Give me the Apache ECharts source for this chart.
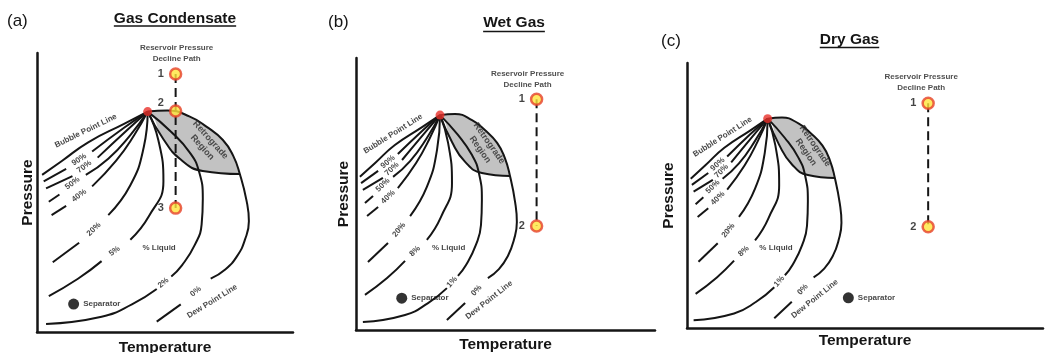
<!DOCTYPE html>
<html>
<head>
<meta charset="utf-8">
<script src="https://cdn.jsdelivr.net/npm/echarts@6/dist/echarts.min.js"></script>
<style>
  html, body { margin: 0; padding: 0; background: #fff; }
  #chart { width: 1045px; height: 353px; }
</style>
</head>
<body>
<div id="chart"></div>
<script>
// ---- Phase envelope (temperature, pressure), shared by the three panels ----
const criticalPoint = [28.1, 79.0];
const bubblePointLine = [[[28.1, 79.0], [22.1, 74.6], [13.0, 68.0], [6.4, 61.4], [1.3, 56.3]]];
const liquid90 = [[[28.1, 79.0], [22.1, 73.2], [14.0, 64.7]], [[7.4, 58.5], [1.7, 54.0]]];
const liquid70 = [[[28.1, 79.0], [22.7, 72.1], [15.4, 62.5]], [[9.0, 55.9], [2.3, 51.5]]];
const liquid50 = [[[28.1, 79.0], [23.7, 70.6], [18.1, 62.1], [12.4, 56.3]], [[5.7, 49.3], [3.0, 46.7]]];
const liquid40 = [[[28.1, 79.0], [24.7, 70.6], [20.1, 61.4], [14.0, 52.2]], [[7.4, 45.2], [3.7, 41.9]]];
const liquid20 = [[[28.1, 79.0], [27.1, 66.2], [23.7, 52.6], [18.1, 41.9]], [[10.7, 32.0], [4.0, 25.0]]];
const liquidLow = [[[28.1, 79.0], [30.8, 68.8], [32.1, 54.0], [28.4, 41.5], [23.7, 33.1]],
                   [[16.4, 25.4], [10.4, 19.1], [3.0, 12.9]]];
const liquidTrace = [[[28.1, 79.0], [34.1, 71.7], [38.8, 64.3], [41.1, 57.7], [42.1, 47.8], [41.8, 38.6],
                      [40.1, 31.3], [36.8, 23.9], [34.1, 19.9]],
                     [[30.4, 15.4], [24.1, 9.9], [16.4, 5.5], [2.3, 2.9]]];
const dewPointLine = [[[28.1, 79.0], [33.1, 79.4], [38.8, 77.2], [43.1, 73.5], [47.2, 68.8], [49.8, 63.2],
                       [51.5, 56.6], [53.2, 47.1], [53.8, 39.7], [52.8, 33.1], [50.8, 27.2], [47.8, 22.4],
                       [44.1, 19.1]],
                      [[36.5, 9.9], [30.4, 3.7]]];
// edges of the shaded retrograde region
const retrogradeUpper = [[28.1, 79.0], [33.1, 79.4], [38.8, 77.2], [43.1, 73.5], [47.2, 68.8], [49.8, 63.2], [51.5, 56.6]];
const retrogradeLower = [[28.1, 79.0], [32.1, 69.1], [36.5, 61.8], [42.1, 57.7], [51.5, 56.6]];

// curve annotations: text, temperature, pressure, direction along the curve (dT, dP)
const sharedLabels = [
  ['Bubble Point Line', 12.4, 72.1, 22.4, 15.4],
  ['90%', 10.7, 61.8, 6.6, 6.2],
  ['70%', 12.0, 59.2, 6.4, 6.6],
  ['50%', 9.0, 53.3, 6.7, 7.0],
  ['40%', 10.7, 48.9, 6.6, 7.0],
  ['20%', 14.4, 36.8, 7.4, 9.9],
  ['0%', 40.3, 14.5, 7.6, 9.2],
  ['Dew Point Line', 44.5, 11.0, 15.7, 13.6],
  ['% Liquid', 31.0, 30.3, 1, 0],
  ['Retrograde\nRegion', 43.0, 67.5, 0.192, -0.301]
];
const liquidLowLabel = [19.7, 29.0, 7.3, 7.7];
const liquidTraceLabel = [32.1, 17.6, 3.7, 4.5];

// ---- per panel ----
const panelLetters = ['(a)', '(b)', '(c)'];
const panelTitles = ['Gas Condensate', 'Wet Gas', 'Dry Gas'];
const temperatureSpan = [65, 100, 124];
const liquidLowText = ['5%', '8%', '8%'];
const liquidTraceText = ['2%', '1%', '1%'];
const declinePathT = [35.2, 60.4, 84.0];
const declinePathP = [[92.5, 79.2, 44.4], [84.8, 38.2], [84.8, 38.2]];
const declinePointNames = [['1', '2', '3'], ['1', '2'], ['1', '2']];
const separatorPos = [[9.3, 10.0], [15.3, 11.7], [56.2, 11.4]];

// ---- layout and styling ----
const FONT = "'Liberation Sans', Arial, Helvetica, sans-serif";
const INK = '#151515';
const panelLayout = [
  { grid: { left: 37, top: 53, width: 256, height: 279 }, title: { x: 175, y: 19, ul: 26 },
    letter: { x: 7, y: 21 }, pGap: 1, tGap: 8, pathTextOffset: [1, 0], pointLabelOffsets: [[0, 0], [0, -8], [0, 0]] },
  { grid: { left: 356, top: 58, width: 299, height: 272 }, title: { x: 514, y: 23, ul: 31.5 },
    letter: { x: 328, y: 22 }, pGap: 4, tGap: 7, pathTextOffset: [-9, 0], pointLabelOffsets: [[0, 0], [0, 0]] },
  { grid: { left: 687, top: 63, width: 356, height: 265 }, title: { x: 849.5, y: 40, ul: 47.5 },
    letter: { x: 661, y: 41 }, pGap: 10, tGap: 5, pathTextOffset: [-7, 0], pointLabelOffsets: [[0, 0], [0, 0]] }
];

const measureCtx = document.createElement('canvas').getContext('2d');
function textWidth(text, font) { measureCtx.font = font; return measureCtx.measureText(text).width; }

// the white mask under the lower edge reaches a little past both ends so no grey seam is left
function widenedMask(edge, pad) {
  const first = edge[0], last = edge[edge.length - 1];
  return [[first[0] - pad, first[1]]].concat(edge, [[last[0] + pad, last[1]]]);
}

const grids = [], xAxes = [], yAxes = [], series = [], graphics = [];
const axisName = { fontFamily: FONT, fontSize: 15.5, fontWeight: 'bold', color: INK };

panelLayout.forEach((L, i) => {
  grids.push(Object.assign({ containLabel: false, outerBoundsMode: 'none' }, L.grid));
  xAxes.push({
    gridIndex: i, type: 'value', min: 0, max: temperatureSpan[i], z: 10,
    name: 'Temperature', nameLocation: 'middle', nameGap: L.tGap, nameTextStyle: Object.assign({ verticalAlign: 'top' }, axisName),
    axisLine: { show: true, onZero: false, lineStyle: { color: INK, width: 2.5 } },
    axisTick: { show: false }, axisLabel: { show: false }, splitLine: { show: false }
  });
  yAxes.push({
    gridIndex: i, type: 'value', min: 0, max: 100, z: 10,
    name: 'Pressure', nameLocation: 'middle', nameGap: L.pGap, nameTextStyle: axisName,
    axisLine: { show: true, onZero: false, lineStyle: { color: INK, width: 2.5 } },
    axisTick: { show: false }, axisLabel: { show: false }, splitLine: { show: false }
  });

  const base = { xAxisIndex: i, yAxisIndex: i, animation: false, silent: true };
  const sx = L.grid.width / temperatureSpan[i];
  const sy = L.grid.height / 100;

  // shaded retrograde region: grey under the dew-point edge, cleared below the lower edge
  series.push(Object.assign({}, base, {
    type: 'line', data: retrogradeUpper, smooth: true, symbol: 'none', z: 1,
    lineStyle: { width: 0, opacity: 0 }, areaStyle: { color: '#c2c2c2', opacity: 1, origin: 'start' }
  }));
  series.push(Object.assign({}, base, {
    type: 'line', data: widenedMask(retrogradeLower, 0.8), smooth: true, symbol: 'none', z: 2,
    lineStyle: { width: 0, opacity: 0 }, areaStyle: { color: '#ffffff', opacity: 1, origin: 'start' }
  }));

  // envelope curves
  const curves = [bubblePointLine, liquid90, liquid70, liquid50, liquid40, liquid20, liquidLow, liquidTrace, dewPointLine, [retrogradeLower]];
  curves.forEach(curve => curve.forEach(seg => {
    series.push(Object.assign({}, base, {
      type: 'line', data: seg, smooth: true, symbol: 'none', z: 3, clip: false,
      lineStyle: { color: INK, width: 2 }
    }));
  }));

  // curve annotations
  const labels = sharedLabels.concat([
    [liquidLowText[i]].concat(liquidLowLabel),
    [liquidTraceText[i]].concat(liquidTraceLabel)
  ]);
  series.push(Object.assign({}, base, {
    type: 'scatter', symbol: 'circle', symbolSize: 1, z: 6, clip: false,
    itemStyle: { color: 'rgba(0,0,0,0)' },
    label: { show: true, position: 'inside', fontFamily: FONT, fontSize: 8, fontWeight: 'bold', color: INK, lineHeight: 10 },
    data: labels.map(([text, t, p, dt, dp]) => {
      const isRegion = text.indexOf('Retrograde') === 0;
      return {
        value: [t, p],
        label: {
          formatter: text,
          rotate: Math.atan2(dp * sy, dt * sx) * 180 / Math.PI,
          fontSize: isRegion ? 9 : 8,
          lineHeight: isRegion ? 11 : 10,
          color: isRegion ? '#2a2a2a' : INK
        }
      };
    })
  }));

  // reservoir pressure decline path
  const pathData = declinePathP[i].map(p => [declinePathT[i], p]);
  series.push(Object.assign({}, base, {
    type: 'line', data: pathData, symbol: 'none', z: 4,
    lineStyle: { color: INK, width: 2, type: [9, 5] }
  }));
  series.push(Object.assign({}, base, {
    type: 'scatter', symbol: 'circle', symbolSize: 11, z: 5,
    itemStyle: { color: '#ffe53b', borderColor: '#e6412a', borderWidth: 2.5 },
    data: pathData.map((v, k) => ({
      value: v,
      label: {
        show: true, formatter: declinePointNames[i][k], position: 'left', distance: 5,
        offset: L.pointLabelOffsets[k], fontFamily: FONT, fontSize: 11, fontWeight: 'bold', color: INK
      }
    }))
  }));
  series.push(Object.assign({}, base, {
    type: 'scatter', symbolSize: 1, z: 6, itemStyle: { color: 'rgba(0,0,0,0)' },
    data: [{
      value: pathData[0],
      label: {
        show: true, formatter: 'Reservoir Pressure\nDecline Path', position: 'top', distance: 9,
        offset: L.pathTextOffset, align: 'center', fontFamily: FONT, fontSize: 8, fontWeight: 'bold',
        lineHeight: 11, color: '#222'
      }
    }]
  }));

  // critical point
  series.push(Object.assign({}, base, {
    type: 'scatter', symbol: 'circle', symbolSize: 9, z: 7,
    itemStyle: { color: '#e8312a' }, data: [criticalPoint]
  }));

  // separator conditions
  series.push(Object.assign({}, base, {
    type: 'scatter', symbol: 'circle', symbolSize: 11, z: 5,
    itemStyle: { color: '#000' },
    label: { show: true, formatter: 'Separator', position: 'right', distance: 4,
             fontFamily: FONT, fontSize: 8, fontWeight: 'bold', color: INK },
    data: [separatorPos[i]]
  }));

  // panel letter and underlined title
  const titleFont = 'bold 15.5px ' + FONT;
  const tw = textWidth(panelTitles[i], titleFont);
  graphics.push({
    type: 'text', x: L.letter.x, y: L.letter.y, silent: true,
    style: { text: panelLetters[i], font: '17px ' + FONT, fill: INK, align: 'left', verticalAlign: 'middle' }
  });
  graphics.push({
    type: 'text', x: L.title.x, y: L.title.y, silent: true,
    style: { text: panelTitles[i], font: titleFont, fill: INK, align: 'center', verticalAlign: 'middle' }
  });
  graphics.push({
    type: 'line', silent: true,
    shape: { x1: L.title.x - tw / 2, y1: L.title.ul, x2: L.title.x + tw / 2, y2: L.title.ul },
    style: { stroke: INK, lineWidth: 1.5 }
  });
});

const chart = echarts.init(document.getElementById('chart'));
chart.setOption({
  animation: false,
  backgroundColor: '#ffffff',
  grid: grids,
  xAxis: xAxes,
  yAxis: yAxes,
  series: series,
  graphic: graphics
});
</script>
</body>
</html>
